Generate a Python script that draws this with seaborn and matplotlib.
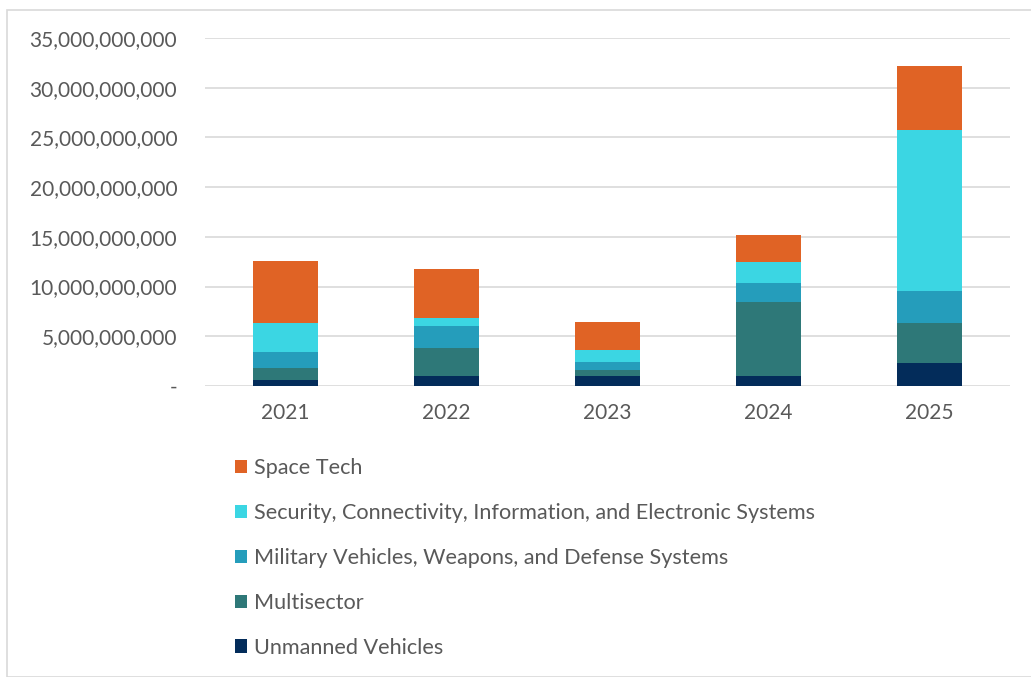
import numpy as np
import pandas as pd
import matplotlib
matplotlib.use("Agg")
import matplotlib.pyplot as plt
from matplotlib.patches import Patch, Rectangle
from matplotlib.ticker import FuncFormatter
import seaborn as sns

years = ["2021", "2022", "2023", "2024", "2025"]
unmanned = [0.60e9, 1.00e9, 1.04e9, 1.04e9, 2.28e9]
multisector = [1.20e9, 2.85e9, 0.57e9, 7.44e9, 4.03e9]
military = [1.60e9, 2.20e9, 0.80e9, 1.85e9, 3.25e9]
security = [2.90e9, 0.80e9, 1.21e9, 2.17e9, 16.14e9]
space = [6.25e9, 4.87e9, 2.85e9, 2.66e9, 6.50e9]

series_names = [
    "Unmanned Vehicles",
    "Multisector",
    "Military Vehicles, Weapons, and Defense Systems",
    "Security, Connectivity, Information, and Electronic Systems",
    "Space Tech",
]
series_vals = [unmanned, multisector, military, security, space]
colors = ["#032C5A", "#2E7878", "#259DBB", "#3BD6E3", "#E06325"]

sns.set_theme(style="white")
plt.rcParams["font.family"] = ["Lato", "DejaVu Sans"]

fig = plt.figure(figsize=(10.31, 6.77), dpi=100)
ax = fig.add_axes([205 / 1031, 1 - 386 / 677, 805 / 1031, (386 - 38) / 677])

cum = np.zeros(len(years))
cums = []
for vals in series_vals:
    cum = cum + np.array(vals)
    cums.append(cum.copy())

# draw from tallest cumulative down so that stacked segments show
for name, c, col in reversed(list(zip(series_names, cums, colors))):
    d = pd.DataFrame({"year": years, "value": c})
    sns.barplot(data=d, x="year", y="value", color=col, width=0.4,
                saturation=1, ax=ax, zorder=3, edgecolor="none")

ax.set_ylim(0, 35e9)
ax.set_xlim(-0.5, 4.5)
ax.set_yticks(np.arange(0, 35e9 + 1, 5e9))
ax.yaxis.set_major_formatter(FuncFormatter(lambda v, p: "-" if v == 0 else f"{int(v):,}"))
ax.grid(axis="y", color="#D9D9D9", linewidth=1.2, zorder=0)
ax.set_axisbelow(True)
for s in ax.spines.values():
    s.set_visible(False)
ax.set_xlabel("")
ax.set_ylabel("")
ax.tick_params(axis="y", length=0, pad=20, labelsize=15, labelcolor="#595959")
ax.tick_params(axis="x", length=0, pad=12, labelsize=15, labelcolor="#595959")

handles = [Patch(facecolor=col, edgecolor="none") for col in reversed(colors)]
labels = list(reversed(series_names))
leg = fig.legend(handles, labels, loc="upper left",
                 bbox_to_anchor=(235 / 1031, 1 - 458 / 677),
                 frameon=False, fontsize=15.6, labelspacing=1.15,
                 handlelength=0.55, handleheight=0.55, handletextpad=0.35,
                 borderaxespad=0, borderpad=0)
for t in leg.get_texts():
    t.set_color("#595959")

fig.patches.append(Rectangle((7 / 1031, 0), 1.2, 1 - 10 / 677,
                             transform=fig.transFigure, fill=False,
                             edgecolor="#D9D9D9", linewidth=1.2))

fig.savefig("out.png", dpi=100)
